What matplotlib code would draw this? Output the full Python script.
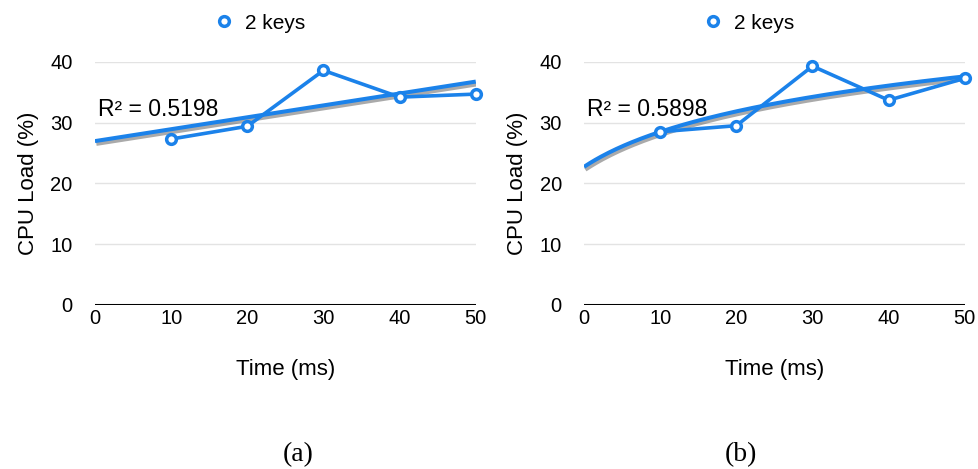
import numpy as np
import matplotlib
matplotlib.use("Agg")
import matplotlib.pyplot as plt
from matplotlib.lines import Line2D
import matplotlib.patheffects as pe

time_ms = [10, 20, 30, 40, 50]
load_a = [27.3, 29.4, 38.6, 34.2, 34.7]
load_b = [28.5, 29.5, 39.3, 33.7, 37.3]
r2_labels = ["R\u00b2 = 0.5198", "R\u00b2 = 0.5898"]
series_name = "2 keys"
panel_labels = ["(a)", "(b)"]
x_ticks = [0, 10, 20, 30, 40, 50]
y_ticks = [0, 10, 20, 30, 40]

BLUE = "#1b82ea"
plt.rcParams['font.family'] = ['Liberation Sans', 'DejaVu Sans']

fig = plt.figure(figsize=(9.79, 4.69), dpi=100)
axes = [fig.add_axes([0.097, 0.35, 0.389, 0.518]),
        fig.add_axes([0.5965, 0.35, 0.389, 0.518])]

xs = np.linspace(0, 50, 200)
# trend lines
ta = np.poly1d(np.polyfit(time_ms, load_a, 1))(xs)
idx = np.array(time_ms) / 10 + 1
coef = np.polyfit(np.log(idx), load_b, 1)
tb = coef[0] * np.log(xs / 10 + 1) + coef[1]

shadow = [pe.SimpleLineShadow(offset=(1.0, -2.0), shadow_color='#444444', alpha=0.45), pe.Normal()]

for i, (ax, data, trend) in enumerate(zip(axes, [load_a, load_b], [ta, tb])):
    for y in y_ticks[1:]:
        ax.axhline(y, color='#e3e3e3', lw=1.0, zorder=0)
    ax.axhline(0, color='black', lw=2.2, zorder=1)
    ax.plot(xs, trend, color=BLUE, lw=2.9, path_effects=shadow, zorder=3, solid_capstyle='butt')
    ax.plot(time_ms, data, color=BLUE, lw=2.6, marker='o', markersize=7,
            markerfacecolor='white', markeredgecolor=BLUE, markeredgewidth=2.5,
            zorder=4, clip_on=False)
    ax.set_xlim(0, 50)
    ax.set_ylim(0, 40)
    ax.set_xticks(x_ticks)
    ax.set_yticks(y_ticks)
    ax.tick_params(length=0, labelsize=14.5, colors='black', pad=3)
    ax.tick_params(axis='y', pad=16)
    for s in ax.spines.values():
        s.set_visible(False)
    ax.set_xlabel("Time (ms)", fontsize=16, labelpad=22)
    ax.set_ylabel("CPU Load (%)", fontsize=16, labelpad=8)
    ax.text(0.4, 32.2, r2_labels[i], fontsize=16.5, va='center', ha='left', zorder=5)
    h = Line2D([], [], color=BLUE, marker='o', linestyle='none', markersize=7,
               markerfacecolor='white', markeredgewidth=2.5)
    ax.legend([h], [series_name], loc='center', bbox_to_anchor=(0.43, 1.16), frameon=False,
              fontsize=15, handletextpad=0.4, handlelength=1.2)
    fig.text([0.305, 0.757][i], 0.004, panel_labels[i], fontsize=20,
             family=['Liberation Serif', 'DejaVu Serif'], ha='center', va='bottom')

fig.savefig("out.png", dpi=100, facecolor='white')
